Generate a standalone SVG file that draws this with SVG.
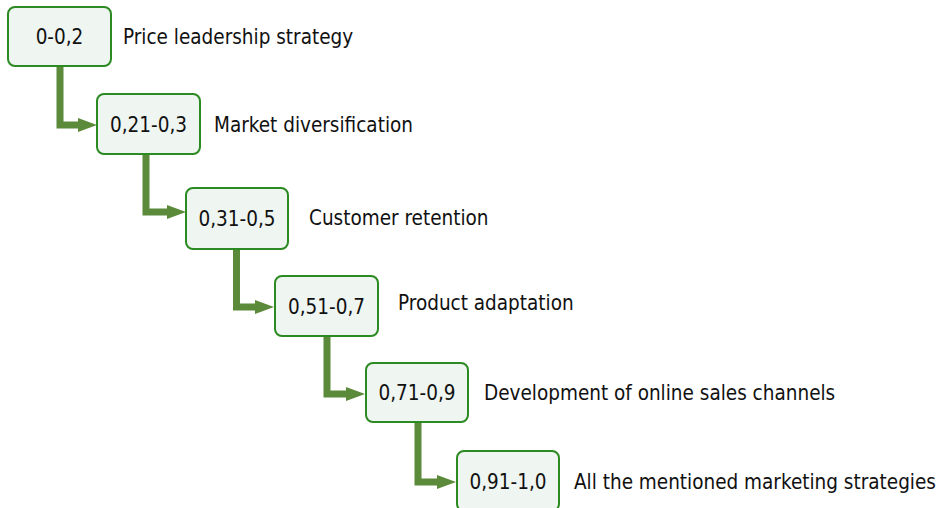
<svg xmlns="http://www.w3.org/2000/svg" width="942" height="508" viewBox="0 0 942 508">
<style>
.box{fill:#eff5f0;stroke:#2c8a22;stroke-width:2}
.num{font-family:"DejaVu Sans Condensed","DejaVu Sans",sans-serif;font-stretch:condensed;font-size:20.5px;fill:#111;text-anchor:middle}
.lbl{font-family:"DejaVu Sans Condensed","DejaVu Sans",sans-serif;font-stretch:condensed;font-size:20.5px;fill:#111}
.con{fill:none;stroke:#5b8a3a;stroke-width:7;stroke-linejoin:miter}
.head{fill:#5b8a3a}
</style>
<rect width="942" height="508" fill="#ffffff"/>
<g id="connectors">
<path class="con" d="M60,66 V125 H80"/><polygon class="head" points="78,118 97,125 78,132"/>
<path class="con" d="M146,154 V212 H169"/><polygon class="head" points="167,205 186,212 167,219"/>
<path class="con" d="M236.5,249 V307 H257"/><polygon class="head" points="255,300 274,307 255,314"/>
<path class="con" d="M327,336 V394 H348"/><polygon class="head" points="346,387 365,394 346,401"/>
<path class="con" d="M418,422 V482 H439"/><polygon class="head" points="437,475 456,482 437,489"/>
</g>
<g id="n1"><rect class="box" x="8" y="7" width="103" height="59" rx="7"/><text class="num" x="59.5" y="44">0-0,2</text><text class="lbl" x="123" y="44">Price leadership strategy</text></g>
<g id="n2"><rect class="box" x="97" y="94" width="103" height="60" rx="7"/><text class="num" x="148.5" y="131.5">0,21-0,3</text><text class="lbl" x="214" y="131.5">Market diversification</text></g>
<g id="n3"><rect class="box" x="186" y="188" width="102" height="61" rx="7"/><text class="num" x="237" y="225.5">0,31-0,5</text><text class="lbl" x="309" y="224.5">Customer retention</text></g>
<g id="n4"><rect class="box" x="275" y="276" width="103" height="60" rx="7"/><text class="num" x="326.5" y="313.5">0,51-0,7</text><text class="lbl" x="398" y="309.5">Product adaptation</text></g>
<g id="n5"><rect class="box" x="366" y="363" width="102" height="59" rx="7"/><text class="num" x="417" y="400">0,71-0,9</text><text class="lbl" x="484" y="399.5">Development of online sales channels</text></g>
<g id="n6"><rect class="box" x="457" y="451" width="102" height="60" rx="7"/><text class="num" x="508" y="488.5">0,91-1,0</text><text class="lbl" x="574" y="488.5">All the mentioned marketing strategies</text></g>
</svg>
